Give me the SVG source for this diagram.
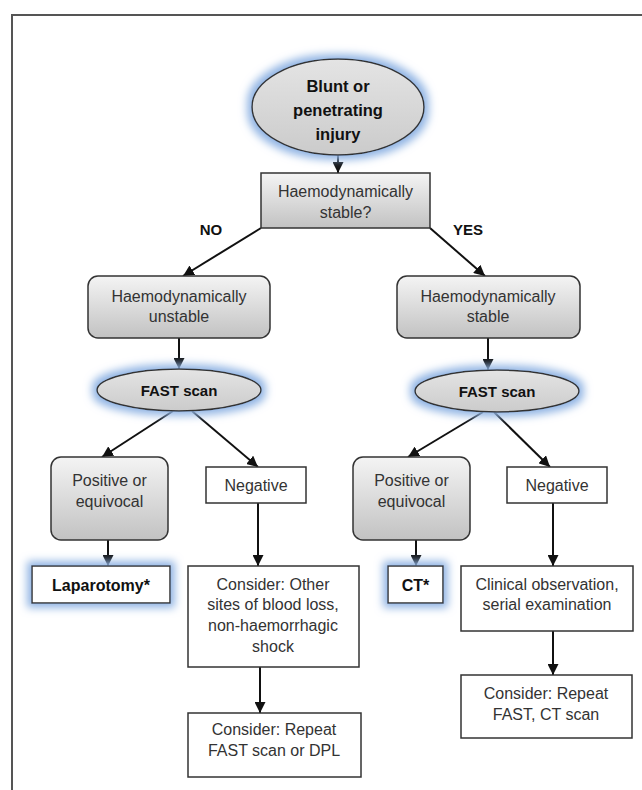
<svg xmlns="http://www.w3.org/2000/svg" width="642" height="790" viewBox="0 0 642 790">
<style>
  .t { font-family: "Liberation Sans", Arial, sans-serif; font-size: 16px; fill: #333; text-anchor: middle; }
  .b { font-family: "Liberation Sans", Arial, sans-serif; font-weight: bold; fill: #111; text-anchor: middle; }
  .box { fill: #fff; stroke: #333; stroke-width: 1.5; }
  .gbox { fill: url(#gg); stroke: #333; stroke-width: 1.5; }
  .ell { fill: url(#ge); stroke: #333; stroke-width: 1.5; }
  .c { stroke: #111; stroke-width: 2; fill: none; marker-end: url(#ah); }
</style>
<defs>
  <linearGradient id="gg" x1="0" y1="0" x2="0" y2="1">
    <stop offset="0" stop-color="#f4f4f4"/>
    <stop offset="1" stop-color="#c2c2c2"/>
  </linearGradient>
  <linearGradient id="ge" x1="0" y1="0" x2="0" y2="1">
    <stop offset="0" stop-color="#e4e4e4"/>
    <stop offset="1" stop-color="#cbcbcb"/>
  </linearGradient>
  <filter id="glow" x="-30%" y="-50%" width="160%" height="200%">
    <feMorphology in="SourceAlpha" operator="dilate" radius="4" result="d"/>
    <feGaussianBlur in="d" stdDeviation="4" result="bl"/>
    <feFlood flood-color="#8fb3e3"/>
    <feComposite in2="bl" operator="in" result="g"/>
    <feMerge><feMergeNode in="g"/><feMergeNode in="SourceGraphic"/></feMerge>
  </filter>
  <marker id="ah" viewBox="0 0 10 10" refX="10" refY="5" markerWidth="11" markerHeight="11" markerUnits="userSpaceOnUse" orient="auto">
    <path d="M0,0 L10,5 L0,10 z" fill="#111"/>
  </marker>
</defs>
<rect width="642" height="790" fill="#fff"/>
<path d="M12,790 V15 H642" fill="none" stroke="#555" stroke-width="2"/>

<g id="connectors">
  <line class="c" x1="338" y1="155" x2="338" y2="173"/>
  <line class="c" x1="261" y1="228" x2="183" y2="276"/>
  <line class="c" x1="430" y1="228" x2="485" y2="276"/>
  <line class="c" x1="179" y1="338" x2="179" y2="369"/>
  <line class="c" x1="488" y1="338" x2="488" y2="370"/>
  <line class="c" x1="173" y1="411" x2="102" y2="457"/>
  <line class="c" x1="192" y1="411" x2="258" y2="467"/>
  <line class="c" x1="483" y1="412" x2="408" y2="457"/>
  <line class="c" x1="494" y1="412" x2="550" y2="467"/>
  <line class="c" x1="108" y1="540" x2="108" y2="566"/>
  <line class="c" x1="258" y1="503" x2="258" y2="566"/>
  <line class="c" x1="416" y1="540" x2="416" y2="566"/>
  <line class="c" x1="553" y1="503" x2="553" y2="566"/>
  <line class="c" x1="260" y1="667" x2="260" y2="713"/>
  <line class="c" x1="553" y1="631" x2="553" y2="675"/>
</g>

<g id="injury">
  <ellipse class="ell" cx="338" cy="107" rx="86" ry="48" filter="url(#glow)"/>
  <text class="b" font-size="16.5" x="338" y="92">Blunt or</text>
  <text class="b" font-size="16.5" x="338" y="116">penetrating</text>
  <text class="b" font-size="16.5" x="338" y="140">injury</text>
</g>
<g id="stable-q">
  <rect class="gbox" x="261" y="173" width="169" height="55"/>
  <text class="t" x="345.5" y="197">Haemodynamically</text>
  <text class="t" x="345.5" y="218">stable?</text>
</g>
<g id="labels">
  <text class="b" font-size="15" x="211" y="235">NO</text>
  <text class="b" font-size="15" x="468" y="235">YES</text>
</g>
<g id="unstable">
  <rect class="gbox" x="88" y="276" width="182" height="62" rx="10"/>
  <text class="t" x="179" y="302">Haemodynamically</text>
  <text class="t" x="179" y="322">unstable</text>
</g>
<g id="stable">
  <rect class="gbox" x="397" y="276" width="183" height="62" rx="10"/>
  <text class="t" x="488" y="302">Haemodynamically</text>
  <text class="t" x="488" y="322">stable</text>
</g>
<g id="fast-left">
  <ellipse class="ell" cx="179" cy="390" rx="82" ry="21" filter="url(#glow)"/>
  <text class="b" font-size="15" x="179" y="396">FAST scan</text>
</g>
<g id="fast-right">
  <ellipse class="ell" cx="497" cy="391" rx="82" ry="21" filter="url(#glow)"/>
  <text class="b" font-size="15" x="497" y="397">FAST scan</text>
</g>
<g id="pos-left">
  <rect class="gbox" x="51" y="457" width="117" height="83" rx="10"/>
  <text class="t" x="109.5" y="486">Positive or</text>
  <text class="t" x="109.5" y="507">equivocal</text>
</g>
<g id="neg-left">
  <rect class="box" x="206" y="467" width="100" height="36"/>
  <text class="t" x="256" y="491">Negative</text>
</g>
<g id="pos-right">
  <rect class="gbox" x="353" y="457" width="117" height="83" rx="10"/>
  <text class="t" x="411.5" y="486">Positive or</text>
  <text class="t" x="411.5" y="507">equivocal</text>
</g>
<g id="neg-right">
  <rect class="box" x="507" y="467" width="100" height="36"/>
  <text class="t" x="557" y="491">Negative</text>
</g>
<g id="laparotomy">
  <rect class="box" x="32" y="566" width="138" height="37" filter="url(#glow)"/>
  <text class="b" font-size="16" x="101" y="591">Laparotomy*</text>
</g>
<g id="consider-other">
  <rect class="box" x="188" y="566" width="171" height="101"/>
  <text class="t" x="273" y="590">Consider: Other</text>
  <text class="t" x="273" y="610">sites of blood loss,</text>
  <text class="t" x="273" y="631">non-haemorrhagic</text>
  <text class="t" x="273" y="652">shock</text>
</g>
<g id="ct">
  <rect class="box" x="388" y="566" width="55" height="37" filter="url(#glow)"/>
  <text class="b" font-size="16" x="415.5" y="591">CT*</text>
</g>
<g id="clinical">
  <rect class="box" x="461" y="566" width="172" height="65"/>
  <text class="t" x="547" y="590">Clinical observation,</text>
  <text class="t" x="547" y="610">serial examination</text>
</g>
<g id="repeat-left">
  <rect class="box" x="188" y="713" width="173" height="64"/>
  <text class="t" x="274" y="735">Consider: Repeat</text>
  <text class="t" x="274" y="756">FAST scan or DPL</text>
</g>
<g id="repeat-right">
  <rect class="box" x="461" y="675" width="171" height="63"/>
  <text class="t" x="546" y="699">Consider: Repeat</text>
  <text class="t" x="546" y="720">FAST, CT scan</text>
</g>
</svg>
